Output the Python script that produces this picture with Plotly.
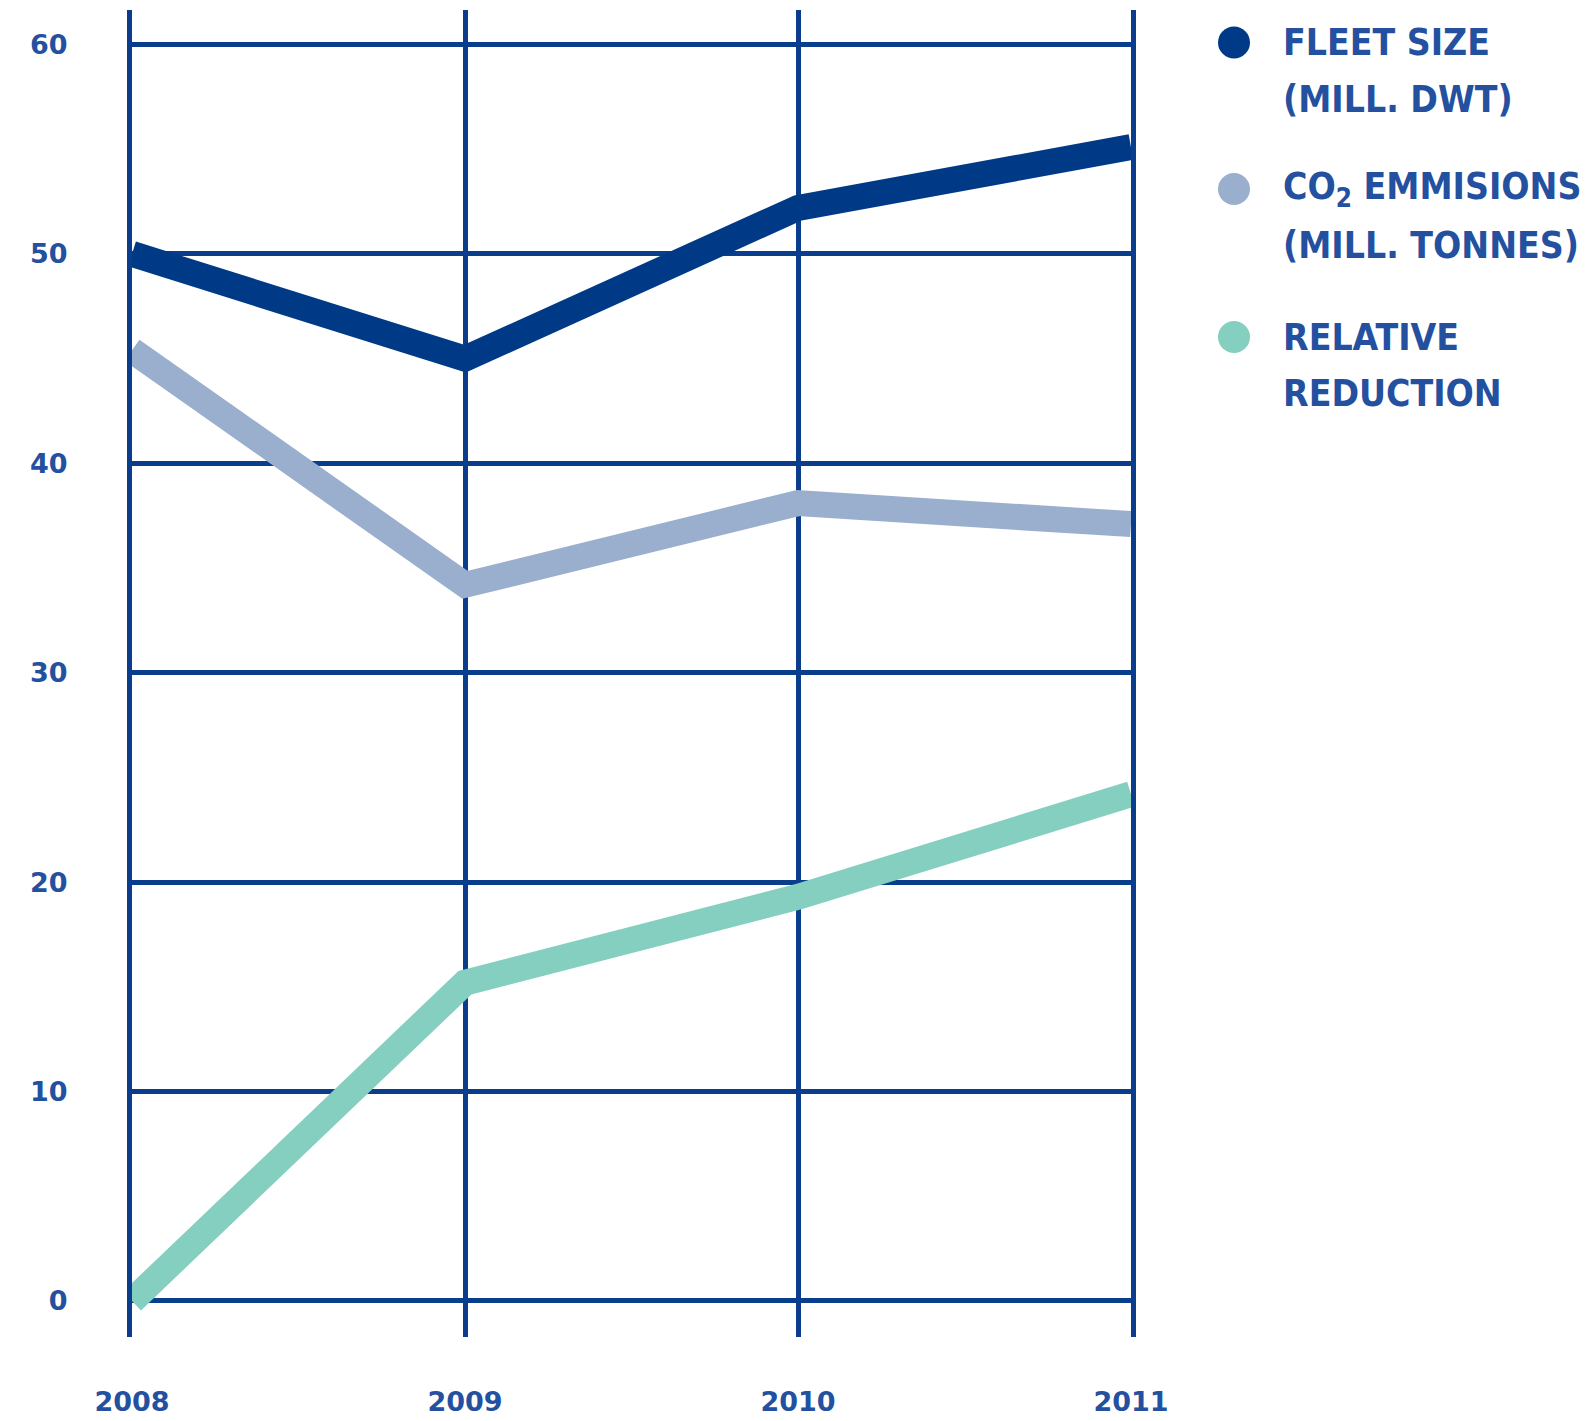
import plotly.graph_objects as go

years = [2008, 2009, 2010, 2011]
fleet_size = [50.0, 45.0, 52.2, 55.1]
co2_emissions = [45.4, 34.2, 38.1, 37.1]
relative_reduction = [0.0, 15.2, 19.3, 24.2]

y_ticks = [0, 10, 20, 30, 40, 50, 60]
x_tick_labels = ["2008", "2009", "2010", "2011"]

legend_items = [
    ("FLEET SIZE", "(MILL. DWT)", "#003a87"),
    ("CO<sub>2</sub> EMMISIONS", "(MILL. TONNES)", "#9aafcd"),
    ("RELATIVE", "REDUCTION", "#85cfc0"),
]

NAVY = "#0a3d8c"
TEXT = "#2450a0"

fig = go.Figure()
series = [
    ("Fleet size (mill. DWT)", fleet_size, "#003a87"),
    ("CO2 emmisions (mill. tonnes)", co2_emissions, "#9aafcd"),
    ("Relative reduction", relative_reduction, "#85cfc0"),
]
for name, vals, col in series:
    fig.add_trace(go.Scatter(x=years, y=vals, mode="lines", name=name,
                             line=dict(color=col, width=26), showlegend=False,
                             hoverinfo="x+y+name"))

W, H = 1588, 1421
ml, mr, mt, mb = 132, 457, 10, 84

tickfont = dict(family="DejaVu Sans", size=27, color=TEXT, weight="bold")
fig.update_layout(
    width=W, height=H,
    margin=dict(l=ml, r=mr, t=mt, b=mb, autoexpand=False),
    paper_bgcolor="white", plot_bgcolor="white",
    showlegend=False,
    xaxis=dict(range=[2008, 2011], tickvals=years, ticktext=x_tick_labels,
               showgrid=True, gridcolor=NAVY, gridwidth=5, zeroline=False,
               showline=False, ticks="", ticklabelstandoff=46, automargin=False,
               tickfont=tickfont),
    yaxis=dict(range=[-1.72, 61.65], tickvals=y_ticks,
               showgrid=True, gridcolor=NAVY, gridwidth=5, zeroline=False,
               showline=True, mirror=True, linecolor=NAVY, linewidth=5,
               layer="above traces", ticks="", ticklabelstandoff=54, automargin=False,
               tickfont=tickfont),
)

# custom legend (circles + two-line labels)
legend_y = [42.5, 189, 337]
line_gap = 56.5
font_leg = dict(family="DejaVu Sans Condensed, DejaVu Sans, sans-serif",
                size=37, color=TEXT, weight="bold")
pw, ph = W - ml - mr, H - mt - mb
for (l1, l2, col), yc in zip(legend_items, legend_y):
    fig.add_shape(type="circle", xref="paper", yref="paper",
                  xsizemode="pixel", ysizemode="pixel",
                  xanchor=(1234 - ml) / pw, yanchor=(H - mb - yc) / ph,
                  x0=-16, x1=16, y0=-16, y1=16,
                  fillcolor=col, line=dict(width=0))
    for k, txt in enumerate([l1, l2]):
        yy = yc + k * line_gap
        fig.add_annotation(text=txt, xref="paper", yref="paper",
                           x=(1281 - ml) / pw, y=(H - mb - yy) / ph,
                           xanchor="left", yanchor="middle", showarrow=False,
                           font=font_leg)

fig.write_html("out.html")
